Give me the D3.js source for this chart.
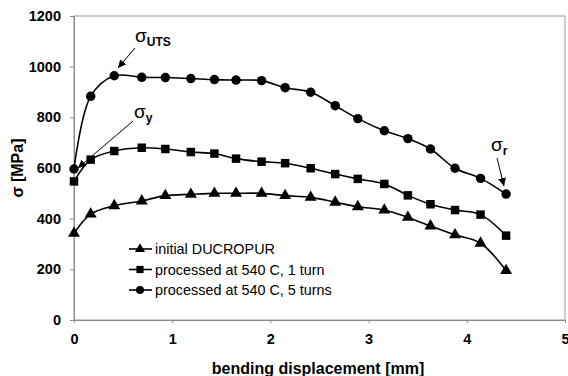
<!DOCTYPE html>
<html>
<head>
<meta charset="utf-8">
<script src="https://cdn.jsdelivr.net/npm/d3@7"></script>
<style>
	body { margin: 0; background: #fff; }
	svg { font-family: "Liberation Sans", Arial, sans-serif; }
</style>
</head>
<body>
<svg id="chart" width="568" height="376"></svg>
<script>
// bending displacement [mm]
var displacement = [0, 0.17, 0.41, 0.69, 0.93, 1.19, 1.43, 1.65, 1.91, 2.15, 2.41, 2.66, 2.89, 3.16, 3.40, 3.63, 3.88, 4.14, 4.40];

// sigma [MPa]
var initialDucropur = [342, 418, 451, 470, 491, 496, 500, 500, 500, 491, 484, 465, 447, 434, 405, 371, 336, 303, 195];
var processed1Turn  = [547, 633, 667, 680, 675, 663, 657, 637, 625, 619, 599, 576, 557, 537, 492, 457, 434, 416, 333];
var processed5Turns = [596, 883, 964, 958, 957, 953, 949, 947, 945, 917, 899, 846, 795, 747, 716, 675, 599, 559, 497];

var seriesNames = ["initial DUCROPUR", "processed at 540 C, 1 turn", "processed at 540 C, 5 turns"];
var seriesMarkers = ["triangle", "square", "circle"];
var xTicks = [0, 1, 2, 3, 4, 5];
var yTicks = [0, 200, 400, 600, 800, 1000, 1200];

var svg = d3.select("#chart");
// window.top is read-only, so plot edges get their own names
var plotLeft = 74, plotRight = 565, plotTop = 16, plotBottom = 320;

var x = d3.scaleLinear().domain([0, 5]).range([plotLeft, plotRight]);
var y = d3.scaleLinear().domain([0, 1200]).range([plotBottom, plotTop]);

var axisColor = "#8a8a8a";

// frame
svg.append("rect")
	.attr("x", plotLeft).attr("y", plotTop)
	.attr("width", plotRight - plotLeft).attr("height", plotBottom - plotTop)
	.attr("fill", "none").attr("stroke", "#9a9a9a").attr("stroke-width", 1);

// axes
var xAxis = svg.append("g")
	.attr("transform", "translate(0," + plotBottom + ")")
	.call(d3.axisBottom(x).tickValues(xTicks).tickFormat(d3.format("d")).tickSize(3).tickPadding(11));
var yAxis = svg.append("g")
	.attr("transform", "translate(" + plotLeft + ",0)")
	.call(d3.axisLeft(y).tickValues(yTicks).tickFormat(d3.format("d")).tickSize(4).tickPadding(9));

[xAxis, yAxis].forEach(function(a)
{
	a.select(".domain").attr("stroke", axisColor);
	a.selectAll(".tick line").attr("stroke", axisColor);
	a.selectAll(".tick text")
		.attr("fill", "#000")
		.style("font-size", "14.5px")
		.style("font-weight", "bold")
		.style("font-family", "'Liberation Sans', Arial, sans-serif");
});

// axis titles
svg.append("text")
	.attr("x", 318).attr("y", 374)
	.attr("text-anchor", "middle")
	.style("font-size", "16px").style("font-weight", "bold")
	.text("bending displacement [mm]");

svg.append("text")
	.attr("transform", "translate(23,168) rotate(-90)")
	.attr("text-anchor", "middle")
	.style("font-size", "16px").style("font-weight", "bold")
	.text("σ [MPa]");

// series
var allSeries = [initialDucropur, processed1Turn, processed5Turns];
var line = d3.line()
	.x(function(d) { return x(d[0]); })
	.y(function(d) { return y(d[1]); })
	.curve(d3.curveCatmullRom.alpha(0.5));

var symbolFor = function(kind)
{
	if (kind === "triangle") return d3.symbol().type(d3.symbolTriangle).size(62)();
	if (kind === "square") return d3.symbol().type(d3.symbolSquare).size(72)();
	return d3.symbol().type(d3.symbolCircle).size(70)();
};

allSeries.forEach(function(values, si)
{
	var pts = displacement.map(function(d, i) { return [d, values[i]]; });
	svg.append("path")
		.attr("d", line(pts))
		.attr("fill", "none")
		.attr("stroke", "#000")
		.attr("stroke-width", 1.6);
	svg.append("g").selectAll("path")
		.data(pts)
		.enter().append("path")
		.attr("d", symbolFor(seriesMarkers[si]))
		.attr("transform", function(d) { return "translate(" + x(d[0]) + "," + y(d[1]) + ")"; })
		.attr("fill", "#000");
});

// legend
var legend = svg.append("g");
seriesNames.forEach(function(name, i)
{
	var ly = 249 + i * 20.5;
	legend.append("line")
		.attr("x1", 129).attr("x2", 152)
		.attr("y1", ly).attr("y2", ly)
		.attr("stroke", "#000").attr("stroke-width", 1.6);
	legend.append("path")
		.attr("d", symbolFor(seriesMarkers[i]))
		.attr("transform", "translate(140," + ly + ") scale(0.85)")
		.attr("fill", "#000");
	legend.append("text")
		.attr("x", 155).attr("y", ly + 5)
		.attr("fill", "#000")
		.style("font-size", "14.4px")
		.text(name);
});

// annotations
svg.append("defs").append("marker")
	.attr("id", "arrow")
	.attr("viewBox", "0 0 10 10")
	.attr("refX", 10).attr("refY", 5)
	.attr("markerWidth", 8).attr("markerHeight", 8)
	.attr("markerUnits", "userSpaceOnUse")
	.attr("orient", "auto")
	.append("path")
	.attr("d", "M0,0 L10,5 L0,10 Z")
	.attr("fill", "#000");

var annotate = function(tx, ty, sub, subBold, x1, y1, x2, y2)
{
	var t = svg.append("text").attr("x", tx).attr("y", ty).attr("fill", "#000").style("font-size", "19px");
	t.append("tspan").attr("fill", "#000").text("σ");
	t.append("tspan")
		.attr("dy", 4)
		.attr("fill", "#000")
		.style("font-size", "12px")
		.style("font-weight", subBold ? "bold" : "normal")
		.text(sub);
	svg.append("line")
		.attr("x1", x1).attr("y1", y1).attr("x2", x2).attr("y2", y2)
		.attr("stroke", "#000").attr("stroke-width", 1)
		.attr("marker-end", "url(#arrow)");
};

annotate(135, 42, "UTS", true, 135, 48, 118, 68);
annotate(134, 118, "y", true, 133, 121, 78, 168);
annotate(491, 151, "r", true, 497, 158, 504, 186);
</script>
</body>
</html>
